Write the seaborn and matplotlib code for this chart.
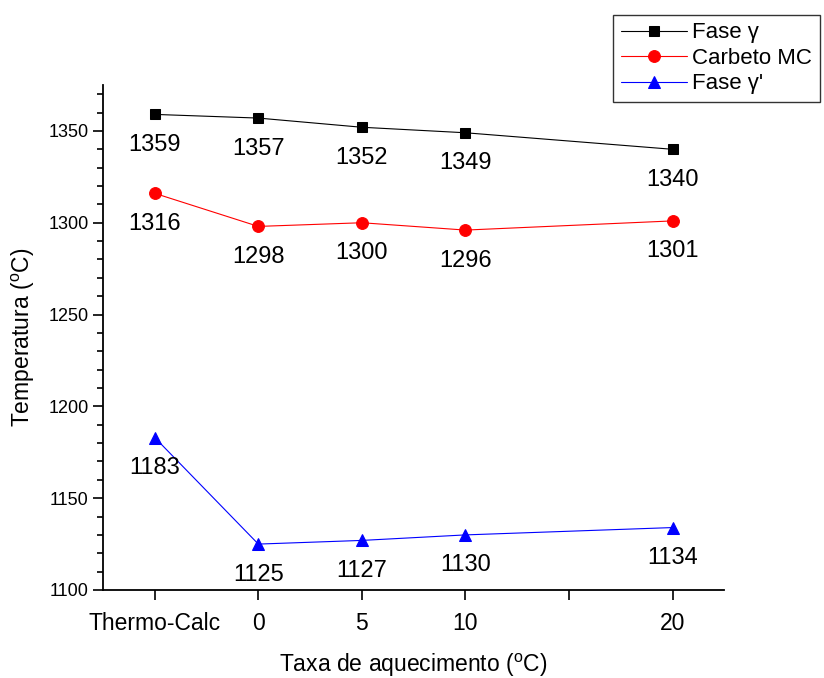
import numpy as np
import pandas as pd
import seaborn as sns
import matplotlib
matplotlib.use("Agg")
import matplotlib.pyplot as plt

# Heating rates (Thermo-Calc prediction placed at x = -5)
x_pos = [-5, 0, 5, 10, 20]
x_ticks = [-5, 0, 5, 10, 15, 20]
x_ticklabels = ["Thermo-Calc", "0", "5", "10", "", "20"]

fase_gamma = [1359, 1357, 1352, 1349, 1340]
carbeto_mc = [1316, 1298, 1300, 1296, 1301]
fase_gamma_p = [1183, 1125, 1127, 1130, 1134]

series_names = ["Fase γ", "Carbeto MC", "Fase γ'"]
series_values = [fase_gamma, carbeto_mc, fase_gamma_p]
colors = ["black", "#ff0000", "#0000ff"]
markers = ["s", "o", "^"]
marker_sizes = [7, 8.5, 8.5]

sns.set_theme(style="ticks")
plt.rcParams["font.family"] = ["Liberation Sans", "DejaVu Sans"]
plt.rcParams["mathtext.fontset"] = "custom"
plt.rcParams["mathtext.rm"] = "Liberation Sans"
for key in ["text.color", "axes.labelcolor", "xtick.color", "ytick.color"]:
    plt.rcParams[key] = "black"

df = pd.concat(
    [pd.DataFrame({"x": x_pos, "y": v, "serie": n}) for n, v in zip(series_names, series_values)],
    ignore_index=True,
)

fig = plt.figure(figsize=(8.24, 6.78), dpi=100)
ax = fig.add_axes([0.125, 0.1298, 0.754, 0.7448])

for name, vals, c, m, ms in zip(series_names, series_values, colors, markers, marker_sizes):
    sub = df[df["serie"] == name]
    sns.lineplot(data=sub, x="x", y="y", ax=ax, color=c, marker=m, markersize=ms,
                 markeredgecolor=c, linewidth=0.8, label=name)
    for xv, yv in zip(x_pos, vals):
        ax.annotate(f"{yv}", (xv, yv), xytext=(0, -22), textcoords="offset points",
                    ha="center", va="center", fontsize=17, color="black")

ax.set_xlim(-7.5, 22.5)
ax.set_ylim(1100, 1375)
ax.set_xticks(x_ticks)
ax.set_xticklabels(x_ticklabels, fontsize=16.5)
ax.set_yticks(np.arange(1100, 1351, 50))
ax.set_yticks(np.arange(1100, 1376, 10), minor=True)
ax.tick_params(axis="y", labelsize=13, direction="out", length=7, width=1.2, color="black")
ax.tick_params(axis="y", which="minor", direction="out", length=4, width=1.2, color="black")
ax.tick_params(axis="x", direction="out", length=7, width=1.2, color="black", pad=9)

for s in ["top", "right"]:
    ax.spines[s].set_visible(False)
for s in ["left", "bottom"]:
    ax.spines[s].set_color("black")
    ax.spines[s].set_linewidth(1.3)

ax.set_xlabel("Taxa de aquecimento ($^{\\rm o}$C)", fontsize=16.5, labelpad=12)
ax.set_ylabel("Temperatura ($^{\\rm o}$C)", fontsize=16.5, labelpad=8)

leg = ax.legend(loc="upper right", bbox_to_anchor=(1.0, 0.985), bbox_transform=fig.transFigure,
                fontsize=16, frameon=True, fancybox=False, edgecolor="black",
                handlelength=3.0, borderpad=0.35, labelspacing=0.2, handletextpad=0.2,
                borderaxespad=0.2)
leg.get_frame().set_linewidth(1.0)

fig.savefig("out.png", dpi=100)
